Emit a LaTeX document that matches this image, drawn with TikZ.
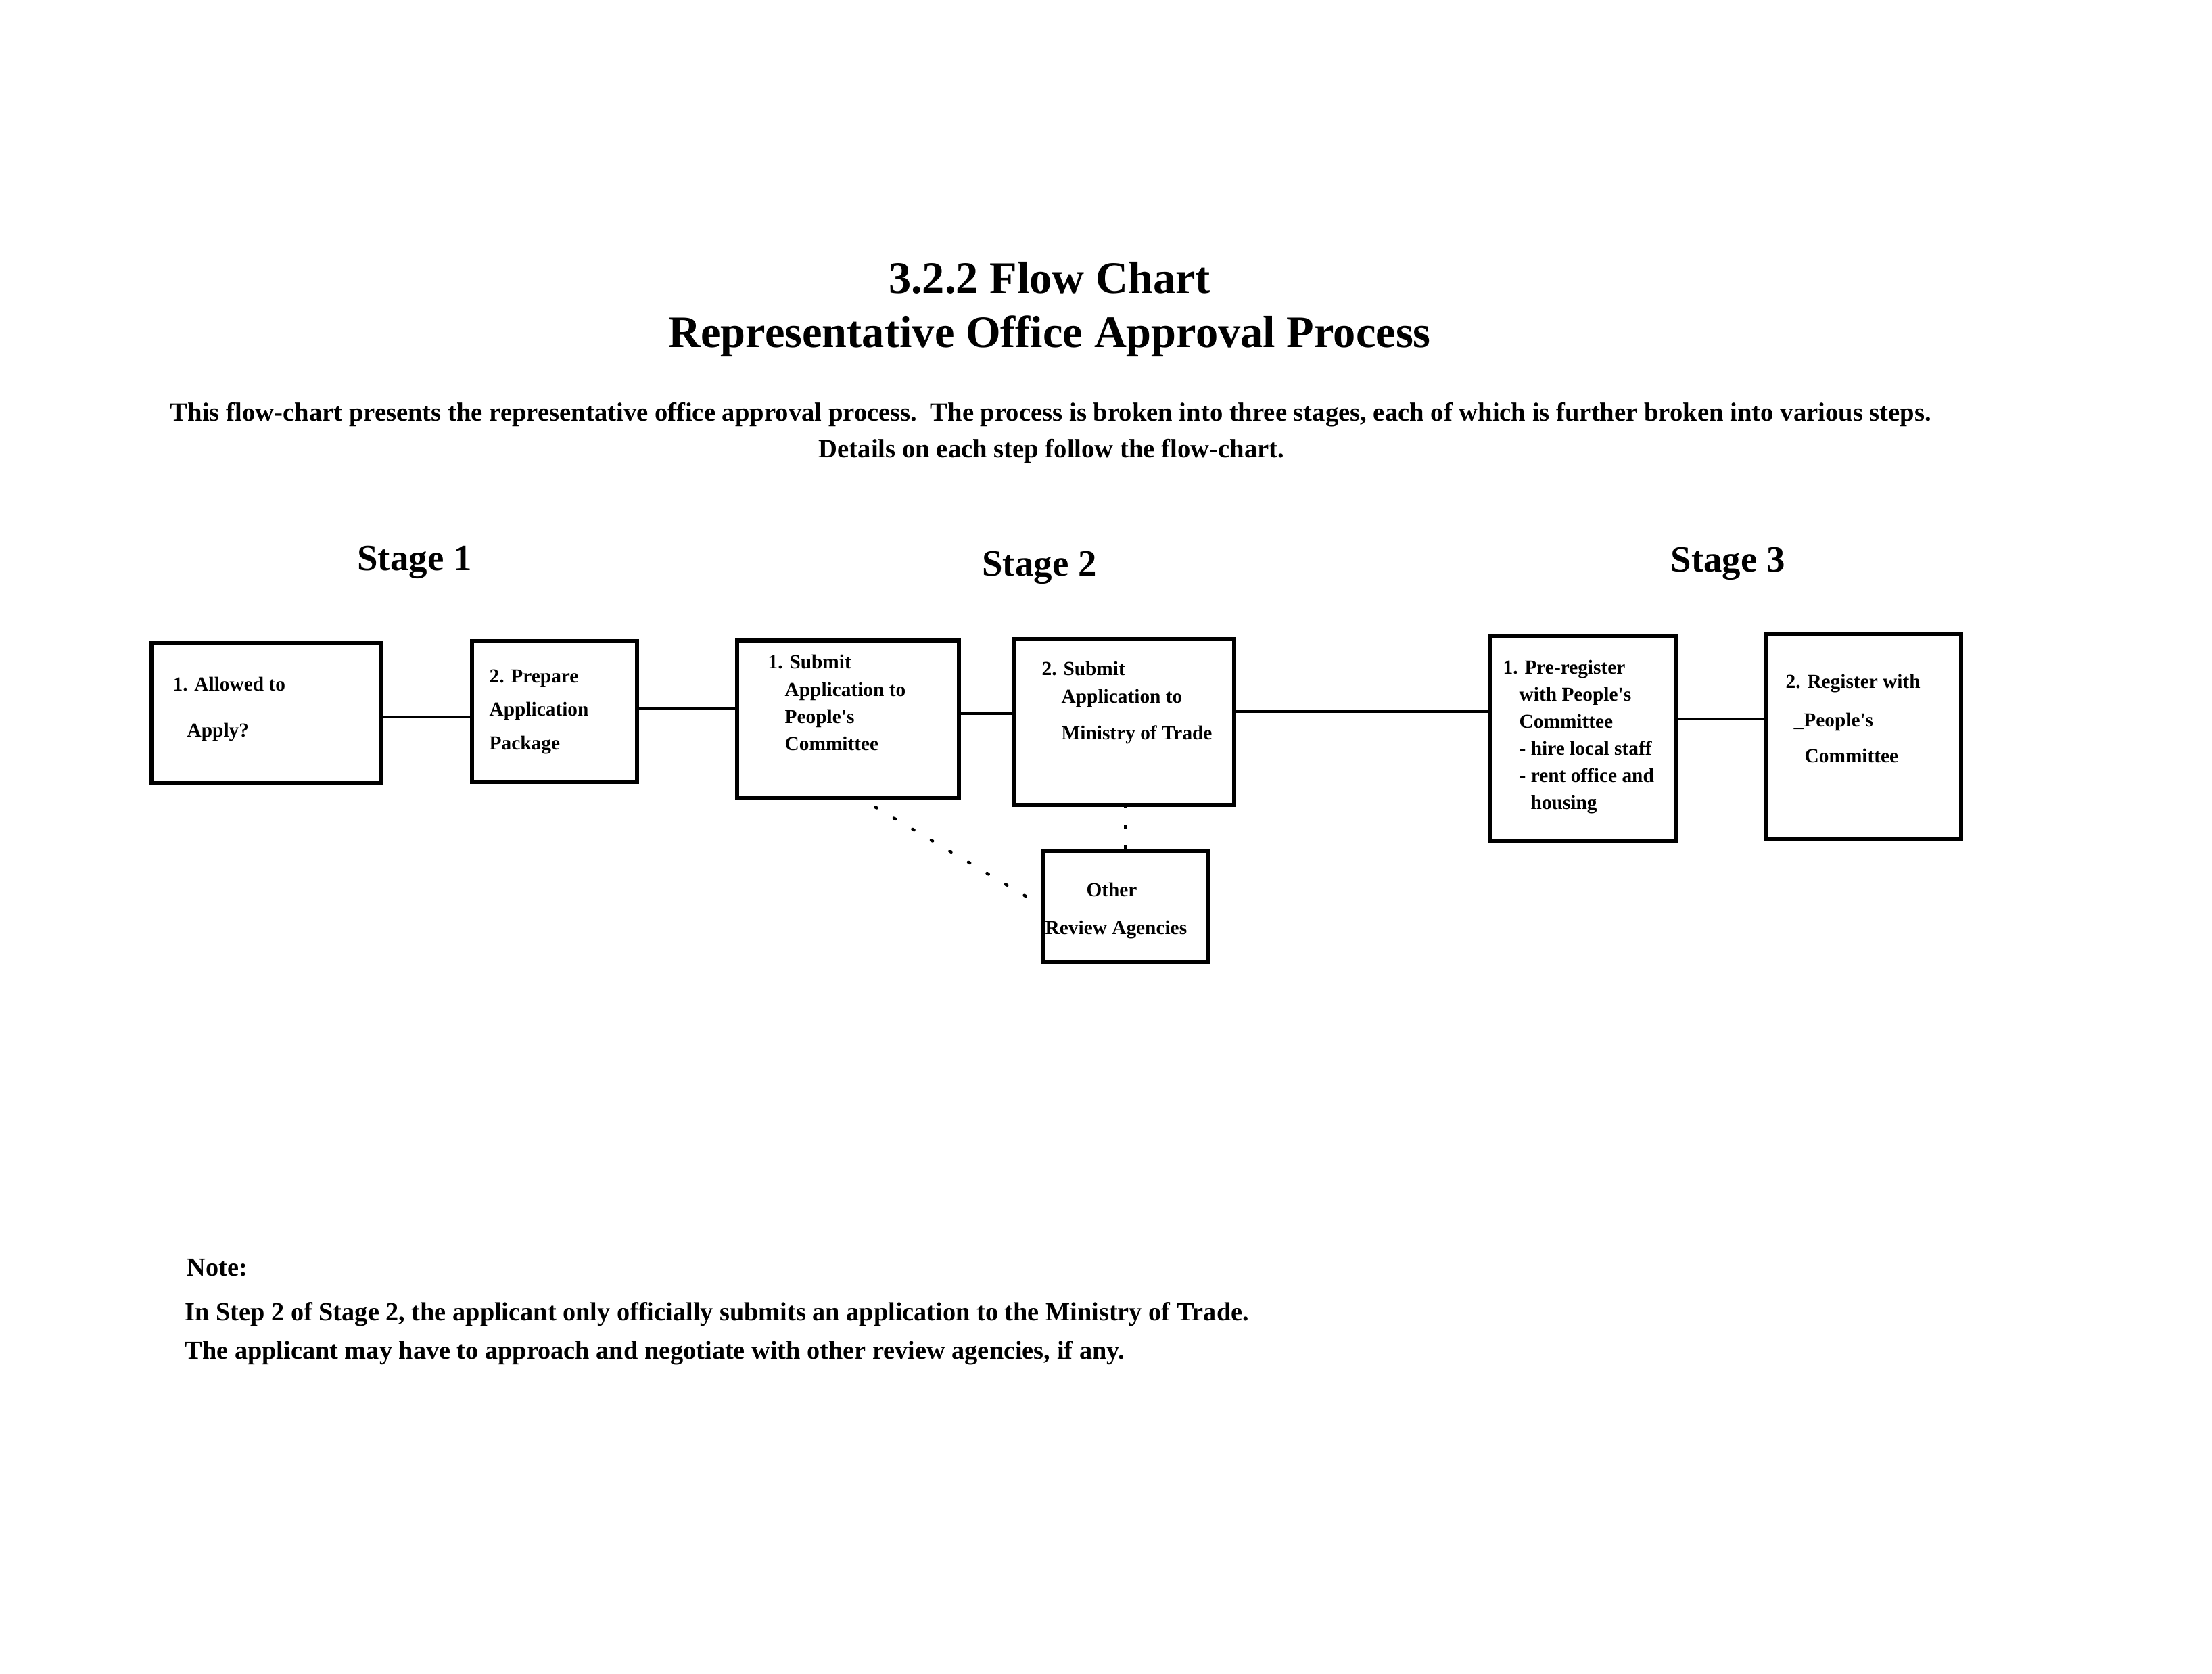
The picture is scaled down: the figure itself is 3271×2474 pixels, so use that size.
\documentclass[tikz,border=0pt]{standalone}
\usepackage{fontspec}
\setmainfont{Liberation Serif}
\begin{document}
\begin{tikzpicture}[x=0.1mm,y=-0.1mm,
  box/.style={draw, line width=0.55mm, inner sep=0pt, outer sep=0pt},
  txt/.style={anchor=mid west, inner sep=0pt, font=\fontsize{8.35}{10}\selectfont\bfseries},
  link/.style={line width=0.45mm},
  dotline/.style={line width=0.45mm, line cap=round, dash pattern=on 0.25mm off 2.95mm, dash phase=0.6mm},
  vdots/.style={line width=0.45mm, dash pattern=on 0.5mm off 2.5mm},
  ttl/.style={anchor=base, inner sep=0pt, font=\fontsize{18.9}{22}\selectfont\bfseries},
  stg/.style={anchor=base, inner sep=0pt, font=\fontsize{15.6}{18}\selectfont\bfseries},
  para/.style={anchor=base, inner sep=0pt, font=\fontsize{11}{13}\selectfont\bfseries},
  note/.style={anchor=base west, inner sep=0pt, font=\fontsize{10.9}{13}\selectfont\bfseries}]
\useasboundingbox (0,0) rectangle (3271,2474);
\fill[white] (0,0) rectangle (3271,2474);

% titles
\node[ttl] (t1) at (1552,433) {3.2.2 Flow Chart};
\node[ttl] (t2) at (1552,513) {Representative Office Approval Process};
\node[para] (p1) at (1554,622) {This flow-chart presents the representative office approval process.\ \ The process is broken into three stages, each of which is further broken into various steps.};
\node[para] (p2) at (1555,676) {Details on each step follow the flow-chart.};

% stages
\node[stg] (s1) at (613,843) {Stage 1};
\node[stg] (s2) at (1537,851) {Stage 2};
\node[stg] (s3) at (2555,845) {Stage 3};

% boxes
\node[box, minimum width=34mm, minimum height=20.7mm] (b1) at (394,1054.5) {};
\node[box, minimum width=24.4mm, minimum height=20.8mm] (b2) at (820,1052) {};
\node[box, minimum width=32.8mm, minimum height=23.3mm] (b3) at (1254,1063.5) {};
\node[box, minimum width=32.6mm, minimum height=24.5mm] (b4) at (1662,1067.5) {};
\node[box, minimum width=24.5mm, minimum height=16.5mm] (oth) at (1664.5,1340.5) {};
\node[box, minimum width=27.4mm, minimum height=30.2mm] (b6) at (2341,1092) {};
\node[box, minimum width=28.8mm, minimum height=30.3mm] (b7) at (2756,1088.5) {};

% box texts
\node[txt] (b1a) at (255,1013) {1. Allowed to};
\node[txt] (b1b) at (276,1081) {Apply?};

\node[txt] (b2a) at (723,1001) {2. Prepare};
\node[txt] (b2b) at (723,1050) {Application};
\node[txt] (b2c) at (723,1100) {Package};

\node[txt] (b3a) at (1135,980) {1. Submit};
\node[txt] (b3b) at (1160,1021) {Application to};
\node[txt] (b3c) at (1160,1061) {People\textquotesingle s};
\node[txt] (b3d) at (1160,1101) {Committee};

\node[txt] (b4a) at (1540,990) {2. Submit};
\node[txt] (b4b) at (1569,1031) {Application to};
\node[txt] (b4c) at (1569,1085) {Ministry of Trade};

\node[txt, anchor=mid] (oa) at (1644,1317) {Other};
\node[txt] (ob) at (1545,1373) {Review Agencies};

\node[txt] (b6a) at (2222,988) {1. Pre-register};
\node[txt] (b6b) at (2246,1028) {with People\textquotesingle s};
\node[txt] (b6c) at (2246,1068) {Committee};
\node[txt] (b6d) at (2246,1108) {- hire local staff};
\node[txt] (b6e) at (2246,1148) {- rent office and};
\node[txt] (b6f) at (2263,1188) {housing};

\node[txt] (b7a) at (2640,1009) {2. Register with};
\node[txt] (b7b) at (2652,1066) {\_People\textquotesingle s};
\node[txt] (b7c) at (2668,1119) {Committee};

% connectors
\draw[link] (b1.east |- 0,1060) -- (b2.west |- 0,1060);
\draw[link] (b2.east |- 0,1048) -- (b3.west |- 0,1048);
\draw[link] (b3.east |- 0,1055) -- (b4.west |- 0,1055);
\draw[link] (b4.east |- 0,1052) -- (b6.west |- 0,1052);
\draw[link] (b6.east |- 0,1063) -- (b7.west |- 0,1063);
\draw[dotline] (b3.south -| 1272,0) -- (oth.west |- 0,1340);
\draw[vdots] (b4.south -| 1664,0) -- (oth.north -| 1664,0);

% note
\node[note] (n0) at (276,1886) {Note:};
\node[note] (n1) at (273,1952) {In Step 2 of Stage 2, the applicant only officially submits an application to the Ministry of Trade.};
\node[note] (n2) at (273,2009) {The applicant may have to approach and negotiate with other review agencies, if any.};
\end{tikzpicture}
\end{document}
